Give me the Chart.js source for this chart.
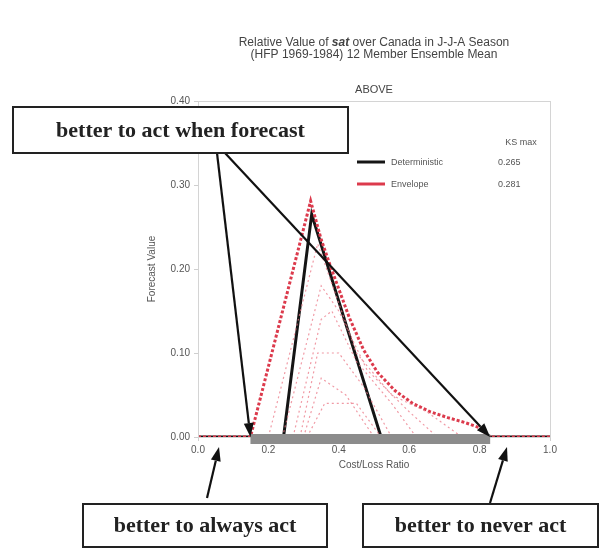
<!DOCTYPE html>
<html>
<head>
<meta charset="utf-8">
<script src="https://cdn.jsdelivr.net/npm/chart.js@4.4.1/dist/chart.umd.min.js"></script>
<style>
  html, body { margin: 0; padding: 0; background: #fff; }
  #wrap { position: relative; width: 609px; height: 550px; }
  #chart { position: absolute; left: 0; top: 0; filter: blur(0.5px); }
  #notes { position: absolute; left: 0; top: 0; pointer-events: none; }
</style>
</head>
<body>
<div id="wrap">
  <canvas id="chart" width="609" height="550"></canvas>
  <canvas id="notes" width="609" height="550"></canvas>
</div>
<script>
// Cost/loss ratio axis and forecast value axis ticks
const xTicks = [0.0, 0.2, 0.4, 0.6, 0.8, 1.0];
const yTicks = [0.00, 0.10, 0.20, 0.30, 0.40];

// Deterministic forecast value curve
const determX = [0.0, 0.243, 0.323, 0.520, 1.0];
const determY = [0.0, 0.0, 0.265, 0.0, 0.0];

// Envelope of the ensemble probability-threshold curves
const envX = [0.0, 0.149, 0.320, 0.350, 0.380, 0.430, 0.470, 0.510, 0.560, 0.610, 0.660, 0.710, 0.760, 0.800, 0.830, 1.0];
const envY = [0.0, 0.0, 0.281, 0.235, 0.199, 0.142, 0.104, 0.077, 0.055, 0.040, 0.030, 0.023, 0.017, 0.011, 0.0, 0.0];

// Individual probability-threshold curves of the 12 member ensemble
const memberAX = [0.200, 0.340, 0.450, 0.550, 0.650, 0.750];
const memberAY = [0.0, 0.230, 0.100, 0.050, 0.030, 0.0];
const memberBX = [0.240, 0.350, 0.400, 0.480, 0.600, 0.680];
const memberBY = [0.0, 0.180, 0.150, 0.080, 0.030, 0.0];
const memberCX = [0.270, 0.350, 0.380, 0.450, 0.550, 0.620];
const memberCY = [0.0, 0.140, 0.150, 0.090, 0.040, 0.0];
const memberDX = [0.290, 0.340, 0.400, 0.470, 0.550];
const memberDY = [0.0, 0.100, 0.100, 0.060, 0.0];
const memberEX = [0.300, 0.350, 0.420, 0.500];
const memberEY = [0.0, 0.070, 0.050, 0.0];
const memberFX = [0.310, 0.360, 0.450, 0.520];
const memberFY = [0.0, 0.040, 0.040, 0.0];

// Legend entries and their KS max scores
const seriesNames = ['Deterministic', 'Envelope'];
const ksMax = [0.265, 0.281];

const toPoints = (xs, ys) => xs.map((x, i) => ({ x: x, y: ys[i] }));

// Range of cost/loss ratios where the envelope value is positive
const firstPos = envY.findIndex(v => v > 0);
let lastPos = firstPos;
envY.forEach((v, i) => { if (v > 0) lastPos = i; });
const rangeStart = envX[firstPos - 1];
const rangeEnd = envX[lastPos + 1];

const memberStyle = {
  borderColor: 'rgba(235,120,135,0.75)',
  borderWidth: 1.2,
  borderDash: [2, 3],
  pointRadius: 0,
  fill: false
};

const FONT = "'Liberation Sans', Arial, sans-serif";
const TEXT = '#555';

const datasets = [
  Object.assign({ label: 'm1', data: toPoints(memberAX, memberAY) }, memberStyle),
  Object.assign({ label: 'm2', data: toPoints(memberBX, memberBY) }, memberStyle),
  Object.assign({ label: 'm3', data: toPoints(memberCX, memberCY) }, memberStyle),
  Object.assign({ label: 'm4', data: toPoints(memberDX, memberDY) }, memberStyle),
  Object.assign({ label: 'm5', data: toPoints(memberEX, memberEY) }, memberStyle),
  Object.assign({ label: 'm6', data: toPoints(memberFX, memberFY) }, memberStyle),
  {
    label: seriesNames[1],
    data: toPoints(envX, envY),
    borderColor: '#dc3a4c',
    borderWidth: 3,
    borderDash: [3, 2],
    pointRadius: 0
  },
  {
    label: seriesNames[0],
    data: toPoints(determX, determY),
    borderColor: '#151515',
    borderWidth: 3,
    pointRadius: 0
  }
];

function arrow(ctx, x0, y0, x1, y1) {
  const ang = Math.atan2(y1 - y0, x1 - x0);
  const hl = 14, hw = 5;
  const bx = x1 - hl * Math.cos(ang), by = y1 - hl * Math.sin(ang);
  ctx.beginPath();
  ctx.moveTo(x0, y0);
  ctx.lineTo(bx, by);
  ctx.stroke();
  ctx.beginPath();
  ctx.moveTo(x1, y1);
  ctx.lineTo(bx + hw * Math.sin(ang), by - hw * Math.cos(ang));
  ctx.lineTo(bx - hw * Math.sin(ang), by + hw * Math.cos(ang));
  ctx.closePath();
  ctx.fill();
}

function noteBox(ctx, x, y, w, h, text) {
  ctx.fillStyle = '#fff';
  ctx.fillRect(x, y, w, h);
  ctx.lineWidth = 2;
  ctx.strokeStyle = '#222';
  ctx.strokeRect(x, y, w, h);
  ctx.fillStyle = '#222';
  ctx.font = "bold 22px 'Liberation Serif', 'Times New Roman', serif";
  ctx.textAlign = 'center';
  ctx.textBaseline = 'middle';
  ctx.fillText(text, x + w / 2, y + h / 2 + 1);
}

const decorations = {
  id: 'decorations',
  afterDraw(chart) {
    const ctx = chart.ctx;
    const a = chart.chartArea;
    ctx.save();
    // plot frame
    ctx.strokeStyle = '#d4d4d4';
    ctx.lineWidth = 1;
    ctx.strokeRect(a.left + 0.5, a.top + 0.5, a.right - a.left, a.bottom - a.top);

    const cx = (a.left + a.right) / 2;
    ctx.fillStyle = '#444';
    ctx.textAlign = 'center';
    ctx.textBaseline = 'middle';
    // title, with the variable name in bold
    ctx.font = '12px ' + FONT;
    const p1 = 'Relative Value of ', p2 = 'sat', p3 = ' over Canada in J-J-A Season';
    const w1 = ctx.measureText(p1).width, w3 = ctx.measureText(p3).width;
    ctx.font = 'bold italic 12px ' + FONT;
    const w2 = ctx.measureText(p2).width;
    let tx = cx - (w1 + w2 + w3) / 2;
    ctx.textAlign = 'left';
    ctx.font = '12px ' + FONT;
    ctx.fillText(p1, tx, 43);
    ctx.font = 'bold italic 12px ' + FONT;
    ctx.fillText(p2, tx + w1, 43);
    ctx.font = '12px ' + FONT;
    ctx.fillText(p3, tx + w1 + w2, 43);
    ctx.textAlign = 'center';
    ctx.fillText('(HFP 1969-1984) 12 Member Ensemble Mean', cx, 55);

    ctx.font = '11px ' + FONT;
    ctx.fillText('ABOVE', cx, 90);

    // axis titles
    ctx.fillStyle = TEXT;
    ctx.font = '10px ' + FONT;
    ctx.fillText('Cost/Loss Ratio', cx, 465);
    ctx.save();
    ctx.translate(152, (a.top + a.bottom) / 2);
    ctx.rotate(-Math.PI / 2);
    ctx.fillText('Forecast Value', 0, 0);
    ctx.restore();

    // legend with KS max column
    ctx.font = '9px ' + FONT;
    ctx.fillText('KS max', 521, 143);
    const rows = [7, 6];
    [162, 184].forEach((ly, i) => {
      const ds = chart.data.datasets[rows[i]];
      ctx.strokeStyle = ds.borderColor;
      ctx.lineWidth = 3;
      ctx.setLineDash([]);
      ctx.beginPath();
      ctx.moveTo(357, ly);
      ctx.lineTo(385, ly);
      ctx.stroke();
      ctx.fillStyle = TEXT;
      ctx.textAlign = 'left';
      ctx.fillText(seriesNames[i], 391, ly + 1);
      ctx.fillText(ksMax[i].toFixed(3), 498, ly + 1);
    });
    ctx.restore();

    // explanatory notes on the overlay canvas
    const nctx = document.getElementById('notes').getContext('2d');
    nctx.clearRect(0, 0, 609, 550);
    const xs = chart.scales.x, ys = chart.scales.y;
    const y0 = ys.getPixelForValue(0);
    const xStart = xs.getPixelForValue(rangeStart);
    const xEnd = xs.getPixelForValue(rangeEnd);
    // band of cost/loss ratios where acting on the forecast pays off
    nctx.fillStyle = '#8c8c8c';
    nctx.fillRect(xStart, y0 - 3, xEnd - xStart, 10);
    nctx.strokeStyle = '#111';
    nctx.fillStyle = '#111';
    nctx.lineWidth = 2.2;
    arrow(nctx, 217, 153, xStart, y0);
    arrow(nctx, 225, 153, xEnd, y0);
    arrow(nctx, 207, 498, 219, 447);
    arrow(nctx, 490, 503, 507, 447);
    noteBox(nctx, 13, 107, 335, 46, 'better to act when forecast');
    noteBox(nctx, 83, 504, 244, 43, 'better to always act');
    noteBox(nctx, 363, 504, 235, 43, 'better to never act');
  }
};

new Chart(document.getElementById('chart'), {
  type: 'line',
  data: { datasets: datasets },
  options: {
    responsive: false,
    animation: false,
    layout: { padding: { left: 0, right: 59, top: 101, bottom: 0 } },
    plugins: { legend: { display: false }, title: { display: false }, tooltip: { enabled: false } },
    elements: { line: { tension: 0 }, point: { radius: 0 } },
    scales: {
      x: {
        type: 'linear',
        min: 0,
        max: 1,
        afterFit(s) { s.height = 113; },
        afterBuildTicks(s) { s.ticks = xTicks.map(v => ({ value: v })); },
        ticks: { callback: v => Number(v).toFixed(1), color: TEXT, font: { size: 10, family: FONT }, padding: 3, maxRotation: 0 },
        grid: { drawOnChartArea: false, color: '#cfcfcf', tickLength: 4 },
        border: { color: '#cfcfcf' }
      },
      y: {
        type: 'linear',
        min: 0,
        max: 0.4,
        afterFit(s) { s.width = 198; },
        afterBuildTicks(s) { s.ticks = yTicks.map(v => ({ value: v })); },
        ticks: { callback: v => Number(v).toFixed(2), color: TEXT, font: { size: 10, family: FONT }, padding: 4 },
        grid: { drawOnChartArea: false, color: '#cfcfcf', tickLength: 4 },
        border: { color: '#cfcfcf' }
      }
    }
  },
  plugins: [decorations]
});
</script>
</body>
</html>
